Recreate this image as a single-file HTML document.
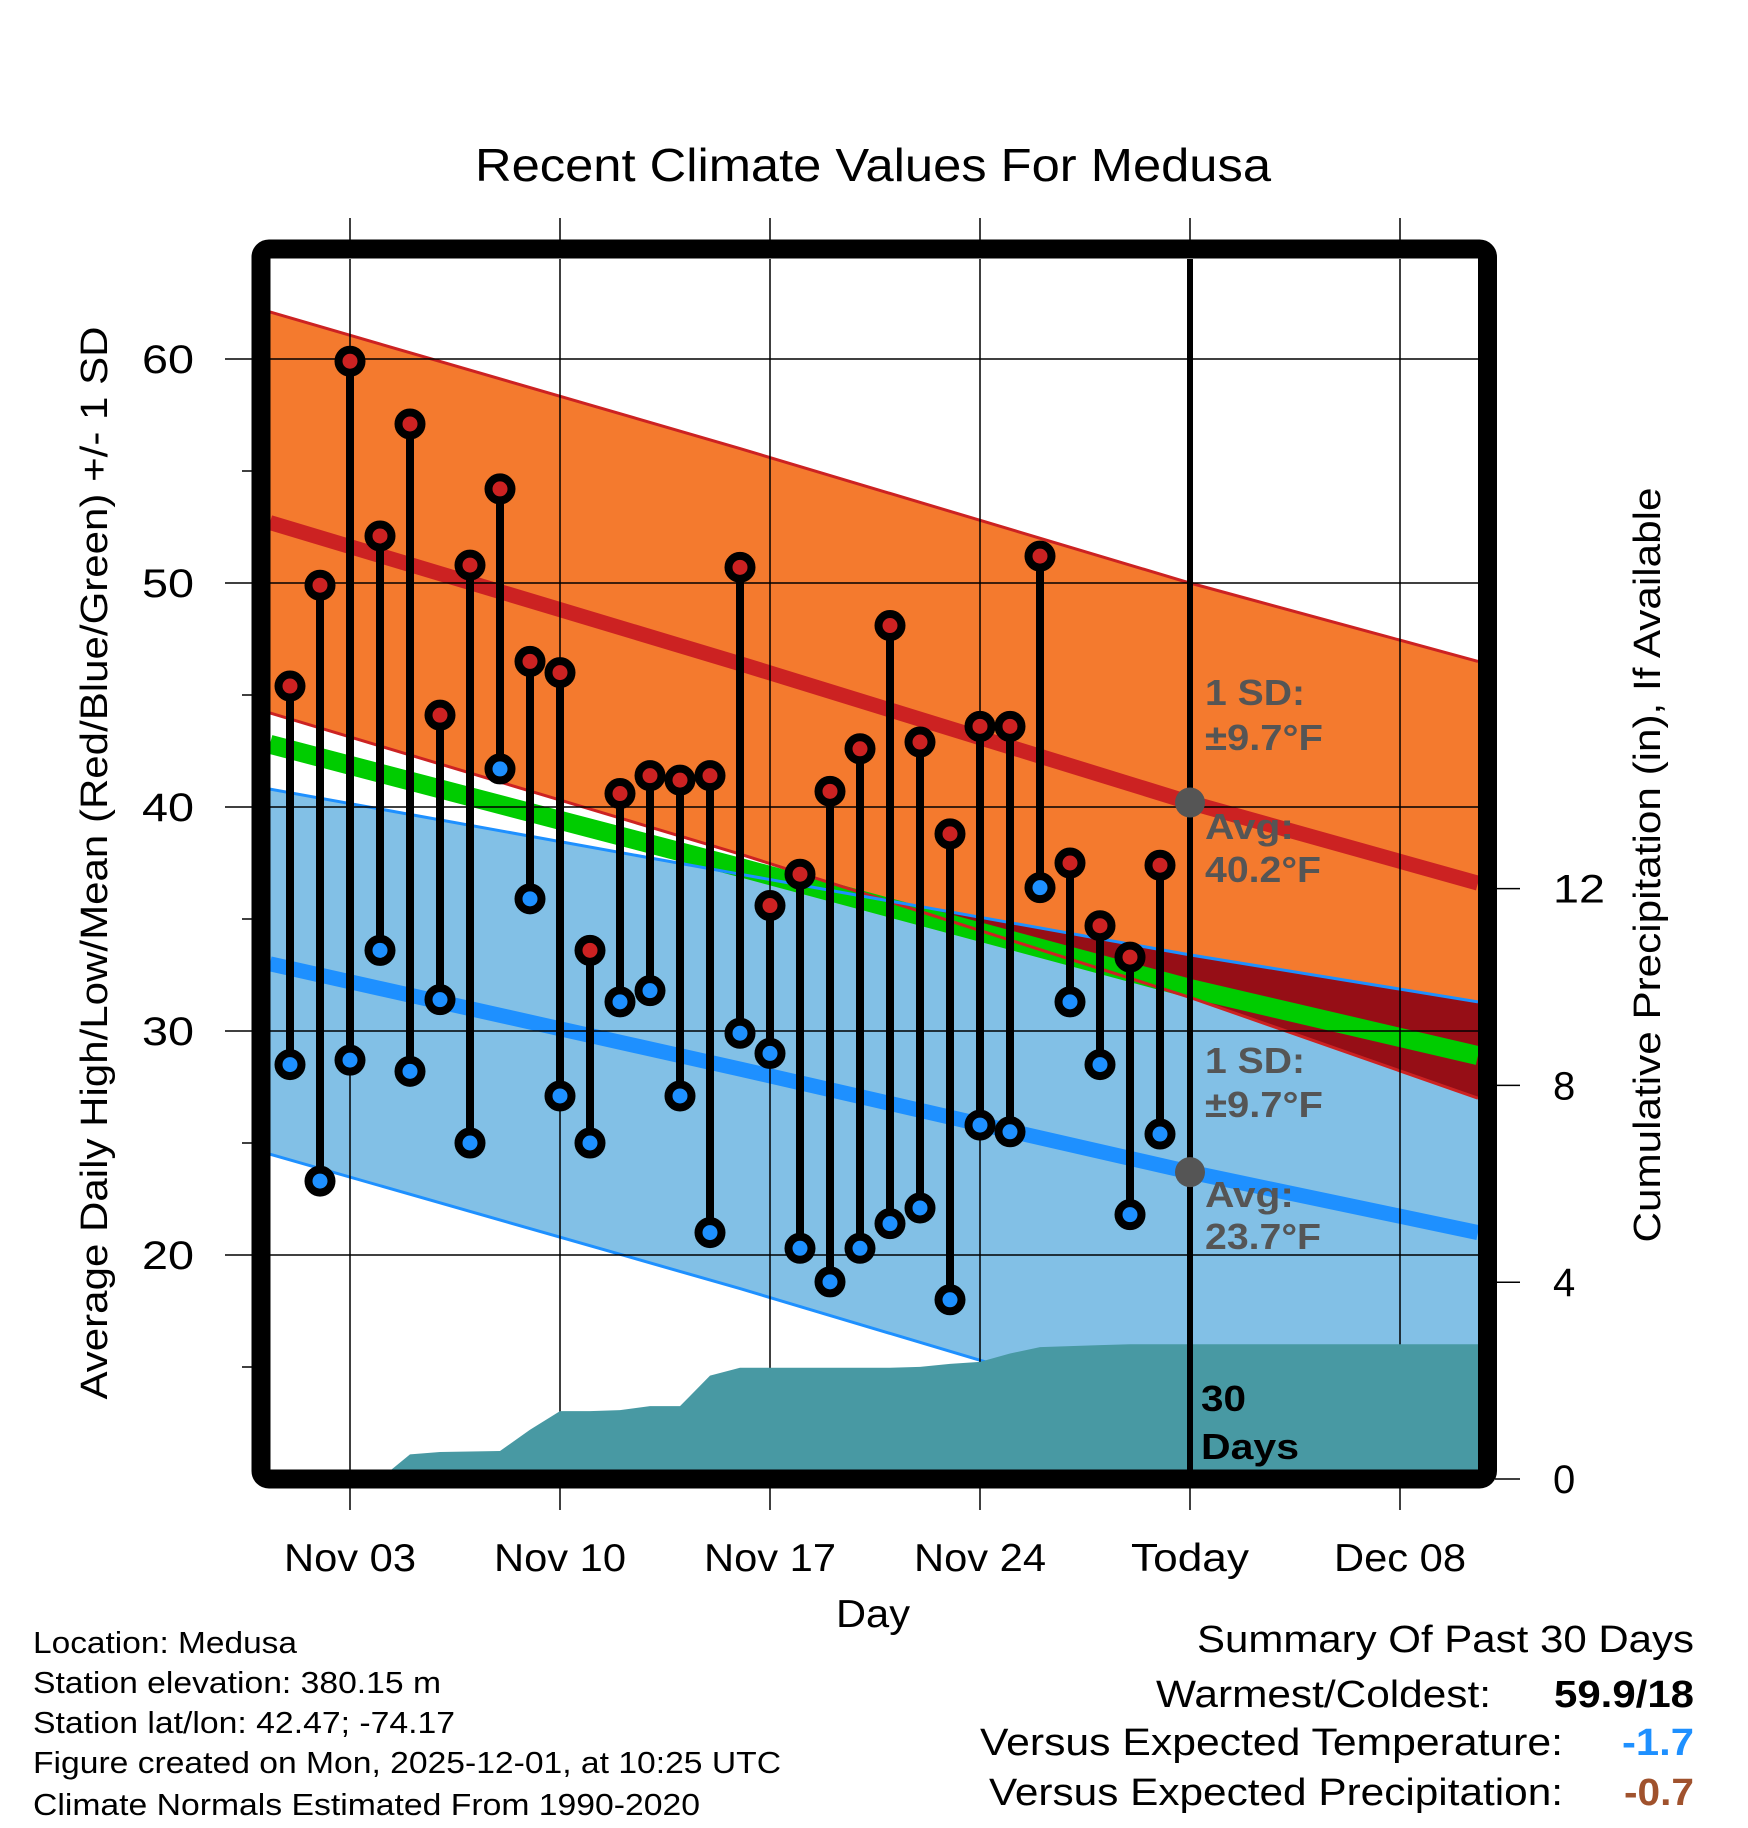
<!DOCTYPE html>
<html><head><meta charset="utf-8"><style>
body{margin:0;background:#fff}
svg{display:block;font-family:"Liberation Sans",sans-serif}
</style></head><body>
<svg id="c" width="1748" height="1828" viewBox="0 0 1748 1828">
<defs><clipPath id="plot"><rect x="270" y="259" width="1208" height="1211"/></clipPath></defs>
<text x="873" y="181" font-size="46" text-anchor="middle" textLength="796" lengthAdjust="spacingAndGlyphs">Recent Climate Values For Medusa</text>
<g id="plotg" clip-path="url(#plot)"></g>
<g id="axes"></g>
<rect x="261" y="249" width="1226.5" height="1230" rx="8" fill="none" stroke="#000" stroke-width="19"/>
<text transform="translate(107,863) rotate(-90)" font-size="38" text-anchor="middle" textLength="1073" lengthAdjust="spacingAndGlyphs">Average Daily High/Low/Mean (Red/Blue/Green) +/- 1 SD</text>
<text transform="translate(1660,865) rotate(-90)" font-size="38" text-anchor="middle" textLength="755" lengthAdjust="spacingAndGlyphs">Cumulative Precipitation (in), If Available</text>
<text x="873" y="1627" font-size="39" text-anchor="middle" textLength="74" lengthAdjust="spacingAndGlyphs">Day</text>
<g font-size="31">
<text x="33" y="1653" textLength="264" lengthAdjust="spacingAndGlyphs">Location: Medusa</text>
<text x="33" y="1693" textLength="408" lengthAdjust="spacingAndGlyphs">Station elevation: 380.15 m</text>
<text x="33" y="1733" textLength="422" lengthAdjust="spacingAndGlyphs">Station lat/lon: 42.47; -74.17</text>
<text x="33" y="1773" textLength="748" lengthAdjust="spacingAndGlyphs">Figure created on Mon, 2025-12-01, at 10:25 UTC</text>
<text x="33" y="1815" textLength="667" lengthAdjust="spacingAndGlyphs">Climate Normals Estimated From 1990-2020</text>
</g>
<g font-size="38">
<text x="1197" y="1652" textLength="497" lengthAdjust="spacingAndGlyphs">Summary Of Past 30 Days</text>
<text x="1156" y="1707" textLength="335" lengthAdjust="spacingAndGlyphs">Warmest/Coldest:</text>
<text x="1554" y="1707" font-weight="bold" textLength="140" lengthAdjust="spacingAndGlyphs">59.9/18</text>
<text x="980" y="1755" textLength="583" lengthAdjust="spacingAndGlyphs">Versus Expected Temperature:</text>
<text x="1622" y="1755" font-weight="bold" fill="#1e90ff" textLength="72" lengthAdjust="spacingAndGlyphs">-1.7</text>
<text x="989" y="1805" textLength="574" lengthAdjust="spacingAndGlyphs">Versus Expected Precipitation:</text>
<text x="1624" y="1805" font-weight="bold" fill="#a0522d" textLength="70" lengthAdjust="spacingAndGlyphs">-0.7</text>
</g>
</svg>
<script>
const days=[0,1,2,3,4,5,6,7,8,9,10,11,12,13,14,15,16,17,18,19,20,21,22,23,24,25,26,27,28,29];
const highs=[45.4,49.9,59.9,52.1,57.1,44.1,50.8,54.2,46.5,46.0,33.6,40.6,41.4,41.2,41.4,50.7,35.6,37.0,40.7,42.6,48.1,42.9,38.8,43.6,43.6,51.2,37.5,34.7,33.3,37.4];
const lows=[28.5,23.3,28.7,33.6,28.2,31.4,25.0,41.7,35.9,27.1,25.0,31.3,31.8,27.1,21.0,29.9,29.0,20.3,18.8,20.3,21.4,22.1,18.0,25.8,25.5,36.4,31.3,28.5,21.8,25.4];
const precip=[0,0,0,0,0.5,0.55,0.56,0.57,1.0,1.38,1.38,1.4,1.48,1.48,2.1,2.26,2.26,2.26,2.26,2.26,2.26,2.28,2.34,2.38,2.55,2.68,2.70,2.72,2.74,2.74];
const normDays=[-0.67,15,30,39.6];
const highAvg=[52.7,46.4,40.2,36.6];
const highUp=[62.1,56.0,50.0,46.5];
const highLo=[44.2,37.9,31.5,27.0];
const lowAvg=[33.0,28.3,23.7,21.0];
const lowUp=[40.8,37.0,33.4,31.3];
const lowLo=[24.5,18.5,12.5,9.0];
const meanAvg=[42.8,37.3,31.9,28.9];
const xTickDays=[2,9,16,23,30,37];
const xTickLabels=["Nov 03","Nov 10","Nov 17","Nov 24","Today","Dec 08"];
const yTicks=[20,30,40,50,60];
const yMinor=[15,25,35,45,55];
const pTicks=[0,4,8,12];
const todayDay=30;

const X=d=>290+d*30;
const Y=v=>359+(60-v)*22.4;
const YP=v=>1479-v*49.2;
const NS="http://www.w3.org/2000/svg";
function mk(p,t,a){const e=document.createElementNS(NS,t);for(const k in a)e.setAttribute(k,a[k]);p.appendChild(e);return e;}
const P=document.getElementById('plotg'),A=document.getElementById('axes');
const pts=arr=>normDays.map((d,i)=>X(d)+','+Y(arr[i])).join(' ');
const band=(up,lo)=>normDays.map((d,i)=>X(d)+','+Y(up[i])).concat(normDays.slice().reverse().map((d,j)=>X(d)+','+Y(lo[normDays.length-1-j]))).join(' ');

let e;
e=mk(P,'polygon',{points:band(highUp,highLo),fill:'#f47a2e'});


e=mk(P,'polygon',{points:band(lowUp,lowLo),fill:'#82c0e6'});


const defs=document.querySelector('defs');
const cp=mk(defs,'clipPath',{id:'hb'});mk(cp,'polygon',{points:band(highUp,highLo)});
e=mk(P,'polygon',{points:band(lowUp,lowLo),fill:'#960e16','clip-path':'url(#hb)'});


e=mk(P,'polyline',{points:pts(meanAvg),fill:'none',stroke:'#00cc00','stroke-width':19});


e=mk(P,'polyline',{points:pts(highAvg),fill:'none',stroke:'#cc2222','stroke-width':15});


e=mk(P,'polyline',{points:pts(lowAvg),fill:'none',stroke:'#1e90ff','stroke-width':15});


[highUp,highLo].forEach(a=>{e=mk(P,'polyline',{points:pts(a),fill:'none',stroke:'#cc2222','stroke-width':3});

});
[lowUp,lowLo].forEach(a=>{e=mk(P,'polyline',{points:pts(a),fill:'none',stroke:'#1e90ff','stroke-width':3});

});
yTicks.forEach(v=>{e=mk(P,'line',{x1:270,x2:1478,y1:Y(v),y2:Y(v),stroke:'#000','stroke-width':1.5});

});
xTickDays.forEach(d=>{e=mk(P,'line',{x1:X(d),x2:X(d),y1:259,y2:1470,stroke:'#000','stroke-width':1.5});

});
let pp=[X(-0.67)+','+YP(0)];days.forEach((d,i)=>pp.push(X(d)+','+YP(precip[i])));
pp.push('1478,'+YP(precip[precip.length-1]));pp.push('1478,1490');pp.push('270,1490');
e=mk(P,'polygon',{points:pp.join(' '),fill:'#4899a3'});


e=mk(P,'line',{x1:X(todayDay),x2:X(todayDay),y1:259,y2:1470,stroke:'#000','stroke-width':6});


days.forEach((d,i)=>{
 e=mk(P,'line',{x1:X(d),x2:X(d),y1:Y(highs[i]),y2:Y(lows[i]),stroke:'#000','stroke-width':8});
 
 
 e=mk(P,'circle',{cx:X(d),cy:Y(highs[i]),r:11.5,fill:'#cc2222',stroke:'#000','stroke-width':8});
 
 
 e=mk(P,'circle',{cx:X(d),cy:Y(lows[i]),r:11.5,fill:'#1e90ff',stroke:'#000','stroke-width':8});
 
 
});
e=mk(P,'circle',{cx:X(todayDay),cy:Y(highAvg[2]),r:15,fill:'#555'});


e=mk(P,'circle',{cx:X(todayDay),cy:Y(lowAvg[2]),r:15,fill:'#555'});


const labs=[["1 SD:",705,100],["±9.7°F",750,118],["Avg:",839,89],["40.2°F",882,116],["1 SD:",1073,100],["±9.7°F",1117,118],["Avg:",1207,89],["23.7°F",1249,116]];
labs.forEach(l=>{e=mk(P,'text',{x:1205,y:l[1],'font-size':36,'font-weight':'bold',fill:'#555',textLength:l[2],lengthAdjust:'spacingAndGlyphs'});e.textContent=l[0];

});
[["30",1411,45],["Days",1459,98]].forEach(l=>{e=mk(P,'text',{x:1201,y:l[1],'font-size':36,'font-weight':'bold',fill:'#000',textLength:l[2],lengthAdjust:'spacingAndGlyphs'});e.textContent=l[0];

});
yTicks.forEach(v=>{e=mk(A,'line',{x1:225,x2:255,y1:Y(v),y2:Y(v),stroke:'#000','stroke-width':1.5});


e=mk(A,'text',{x:194,y:Y(v)+14,'font-size':40,'text-anchor':'end',textLength:52,lengthAdjust:'spacingAndGlyphs'});e.textContent=v;

});
yMinor.forEach(v=>{e=mk(A,'line',{x1:242,x2:255,y1:Y(v),y2:Y(v),stroke:'#000','stroke-width':1.5});

});
xTickDays.forEach((d,i)=>{
 e=mk(A,'line',{x1:X(d),x2:X(d),y1:218,y2:245,stroke:'#000','stroke-width':1.5});
 
 
 e=mk(A,'line',{x1:X(d),x2:X(d),y1:1485,y2:1510,stroke:'#000','stroke-width':1.5});
 
 
 e=mk(A,'text',{x:X(d),y:1571,'font-size':39,'text-anchor':'middle',textLength:(xTickLabels[i]==='Today'?118:132),lengthAdjust:'spacingAndGlyphs'});e.textContent=xTickLabels[i];
 
 
});
pTicks.forEach(v=>{e=mk(A,'line',{x1:1495,x2:1520,y1:YP(v),y2:YP(v),stroke:'#000','stroke-width':1.5});


const a={x:1553,y:YP(v)+14,'font-size':40};if(String(v).length>1){a.textLength=52;a.lengthAdjust='spacingAndGlyphs';}
e=mk(A,'text',a);e.textContent=v;

});
</script>
</body></html>
